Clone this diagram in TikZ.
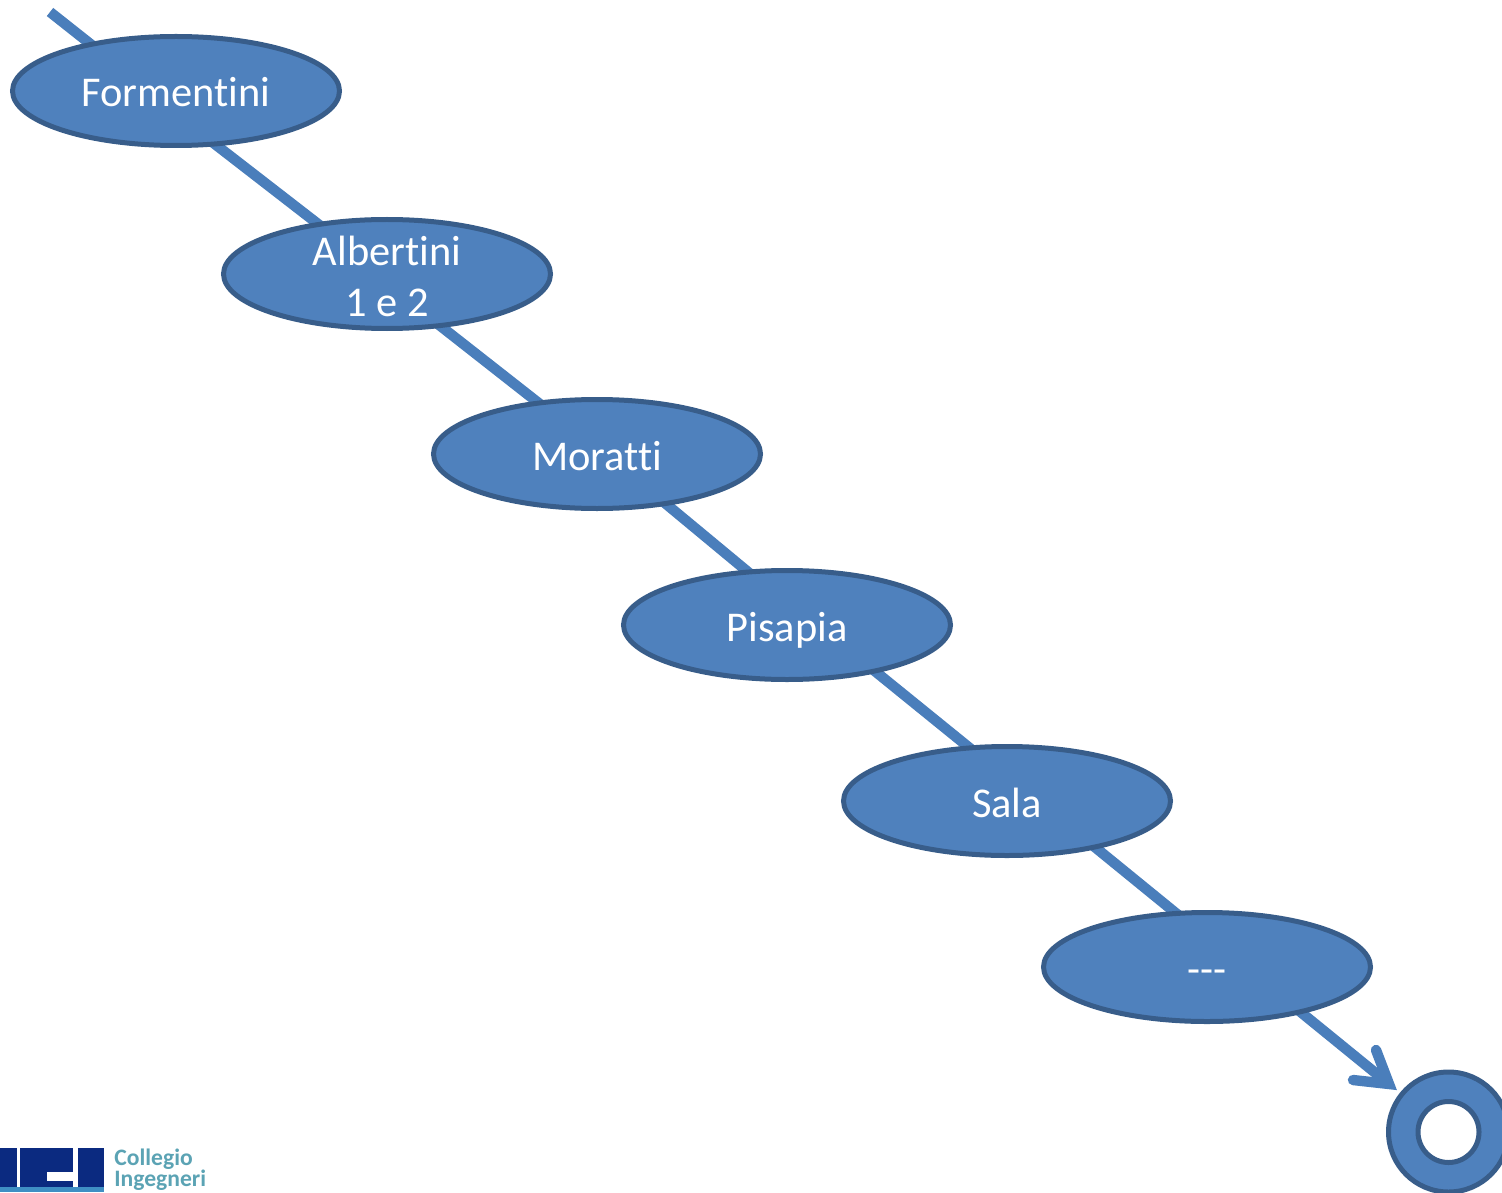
\documentclass[tikz,border=0pt]{standalone}
\usepackage{fontspec}
\setmainfont{Carlito}[Ligatures=NoCommon]
\usetikzlibrary{shapes.geometric,backgrounds}
\definecolor{fillblue}{HTML}{4F81BD}
\definecolor{edgeblue}{HTML}{385D8A}
\definecolor{lineblue}{HTML}{4A7EBB}
\definecolor{logonavy}{HTML}{0B2A80}
\definecolor{logosky}{HTML}{3F8FC4}
\definecolor{logoteal}{HTML}{5BA3B4}
\newcommand{\lowered}[1]{\raisebox{-1pt}[\height][\depth]{#1}}
\tikzset{
  oval/.style={ellipse,draw=edgeblue,fill=fillblue,line width=2.5pt,minimum width=163.5pt,minimum height=54.5pt,inner sep=0pt,text=white,font=\fontsize{21.2}{25.5}\selectfont,align=center},
  oneline/.style={oval,text height=16pt,text depth=0pt},
  twoline/.style={oval,inner ysep=-8pt},
  link/.style={draw=lineblue,line width=5.2pt,shorten <=-3pt,shorten >=-3pt},
  logotext/.style={text=logoteal,font=\fontsize{11.8}{11.8}\selectfont\bfseries,anchor=west,inner sep=0pt}
}
\begin{document}
\begin{tikzpicture}[x=0.5pt,y=-0.5pt]
\useasboundingbox (0,0) rectangle (1502,1192);
\clip (0,0) rectangle (1502,1192);
\node[oneline] (f) at (176,91) {Formentini};
\node[twoline] (a) at (387,274) {\lowered{Albertini}\\\lowered{1 e 2}};
\node[oneline] (m) at (597,454) {Moratti};
\node[oneline] (p) at (787,625) {Pisapia};
\node[oneline] (s) at (1007,801) {Sala};
\node[oneline] (d) at (1207,967) {{-}{-}{-}};
\coordinate (start) at (50,12);
\coordinate (tip) at (1389,1084);
\coordinate (barbA) at (1376,1050);
\coordinate (barbB) at (1353,1080);
\begin{scope}[on background layer]
\draw[link,shorten <=0pt] (start) -- (f.151.7);
\draw[link] (f.-53.8) -- (a.144.9);
\draw[link] (a.-44) -- (m.139.5);
\draw[link] (m.-36.6) -- (p.127.4);
\draw[link] (p.-28.3) -- (s.126);
\draw[link] (s.-28.8) -- (d.121.7);
\draw[link,shorten >=0pt] (d.-26.6) -- (tip);
\draw[draw=lineblue,line width=5.2pt,line cap=round,miter limit=10] (barbA) -- (tip) -- (barbB);
\end{scope}
\fill[fillblue,even odd rule] (1448.5,1132) circle[radius=61] (1448.5,1132) circle[radius=31];
\draw[edgeblue,line width=2.5pt] (1448.5,1132) circle[radius=60] (1448.5,1132) circle[radius=30.5];
% logo
\fill[logosky] (0,1187) rectangle (104,1192);
\fill[logonavy] (0,1148) rectangle (17,1187);
\fill[logonavy] (20,1148) rectangle (73,1187);
\fill[logonavy] (78,1148) rectangle (104,1187);
\fill[white] (47,1172) rectangle (74,1181);
\node[logotext] (l1) at (114,1159) {Collegio};
\node[logotext] (l2) at (114,1180) {Ingegneri};
\end{tikzpicture}
\end{document}
